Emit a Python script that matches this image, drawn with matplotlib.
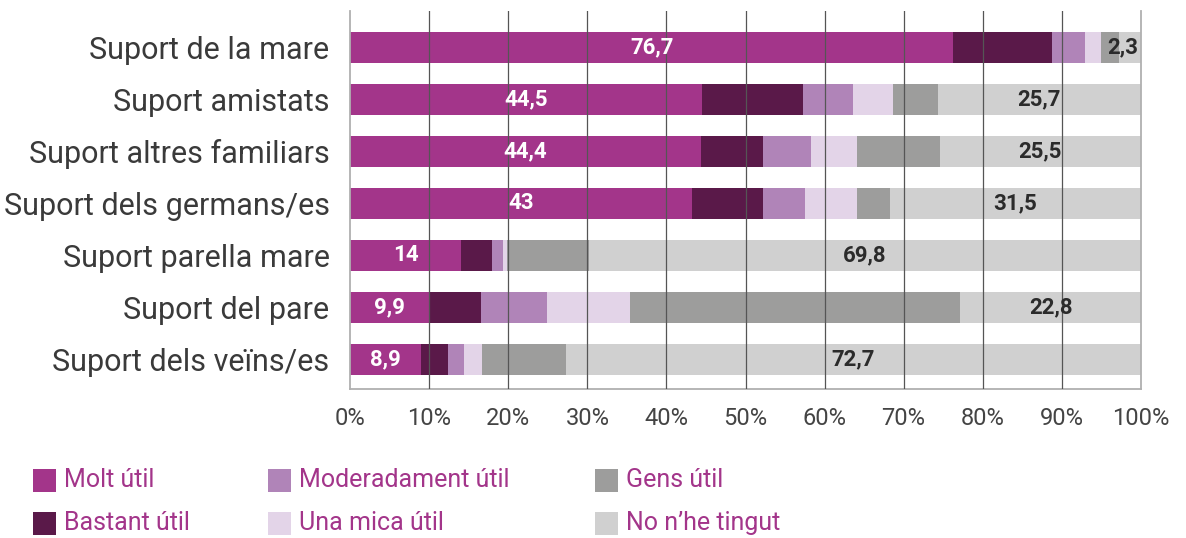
import matplotlib
matplotlib.use("Agg")
import matplotlib.pyplot as plt
from matplotlib.patches import Rectangle
import numpy as np

plt.rcParams["font.family"] = ["Roboto", "DejaVu Sans"]

categories = [
    "Suport de la mare",
    "Suport amistats",
    "Suport altres familiars",
    "Suport dels germans/es",
    "Suport parella mare",
    "Suport del pare",
    "Suport dels veïns/es",
]
series_names = [
    "Molt útil",
    "Bastant útil",
    "Moderadament útil",
    "Una mica útil",
    "Gens útil",
    "No n’he tingut",
]
molt = [76.7, 44.5, 44.4, 43.0, 14.0, 9.9, 8.9]
bastant = [12.6, 12.8, 7.9, 9.0, 3.9, 6.6, 3.5]
moderadament = [4.2, 6.3, 6.1, 5.3, 1.4, 8.4, 2.0]
una_mica = [2.0, 5.1, 5.8, 6.5, 0.5, 10.5, 2.3]
gens = [2.3, 5.7, 10.5, 4.2, 10.4, 41.8, 10.6]
no_tingut = [2.8, 25.7, 25.5, 31.5, 69.8, 22.8, 72.7]

# which series carries the right-hand value label on each row
right_label_series = [4, 5, 5, 5, 5, 5, 5]

colors = ["#a3358a", "#5a1949", "#b084b8", "#e3d4e8", "#9d9d9c", "#d0d0d0"]

data = np.array([molt, bastant, moderadament, una_mica, gens, no_tingut])
# 100% stacked: each row scaled to its own total
pct = data / data.sum(axis=0) * 100

fig = plt.figure(figsize=(11.86, 5.38), dpi=100)
ax = fig.add_axes([0.2954, 0.277, 0.9618 - 0.2954, 0.9796 - 0.277])

y = np.arange(len(categories))
left = np.zeros(len(categories))
for i, vals in enumerate(pct):
    ax.barh(y, vals, left=left, height=0.6, color=colors[i], zorder=2, linewidth=0)
    left += vals

# value labels: "Molt útil" in white, right-hand one in dark grey
label_font = ["Liberation Sans Narrow", "Roboto", "DejaVu Sans"]
for r in range(len(categories)):
    ax.text(pct[0, r] / 2, y[r], f"{molt[r]:g}".replace(".", ","),
            ha="center", va="center", color="white", fontsize=16,
            fontweight="bold", family=label_font, zorder=4)
    s = right_label_series[r]
    start = pct[:s, r].sum()
    width = pct[s, r]
    txt = f"{data[s, r]:g}".replace(".", ",")
    if width < 5:
        ax.text(99.7, y[r], txt, ha="right", va="center", color="#2b2b2b",
                fontsize=16, fontweight="bold", family=label_font, zorder=4)
    else:
        ax.text(start + width / 2, y[r], txt, ha="center", va="center",
                color="#2b2b2b", fontsize=16, fontweight="bold",
                family=label_font, zorder=4)

for x in range(10, 100, 10):
    ax.axvline(x, color="#555555", linewidth=0.9, zorder=3)

ax.set_xlim(0, 100)
ax.set_ylim(len(categories) - 1 + 0.57, -0.70)
ax.set_xticks(np.arange(0, 101, 10))
ax.set_xticklabels([f"{v}%" for v in range(0, 101, 10)])
ax.set_yticks(y)
ax.set_yticklabels(categories)
ax.tick_params(axis="x", length=0, pad=13, labelsize=17, labelcolor="#444444")
ax.tick_params(axis="y", length=0, pad=15, labelsize=22, labelcolor="#3a3a3a")

for side in ["left", "bottom", "right"]:
    ax.spines[side].set_color("#b0b0b0")
    ax.spines[side].set_linewidth(1.3)
ax.spines["top"].set_visible(False)

# legend laid out in three columns of two
W, H = 1186, 538
legend_cols = [33, 268, 595]
legend_rows = [480, 523]
sq = 23
for i, name in enumerate(series_names):
    cx = legend_cols[i // 2]
    cy = legend_rows[i % 2]
    fig.add_artist(Rectangle(((cx) / W, 1 - (cy + sq / 2) / H), sq / W, sq / H,
                             transform=fig.transFigure, color=colors[i], lw=0))
    fig.text((cx + sq + 8) / W, 1 - cy / H, name, ha="left", va="center",
             fontsize=18, color="#a3358a")

fig.savefig("out.png", dpi=100)
